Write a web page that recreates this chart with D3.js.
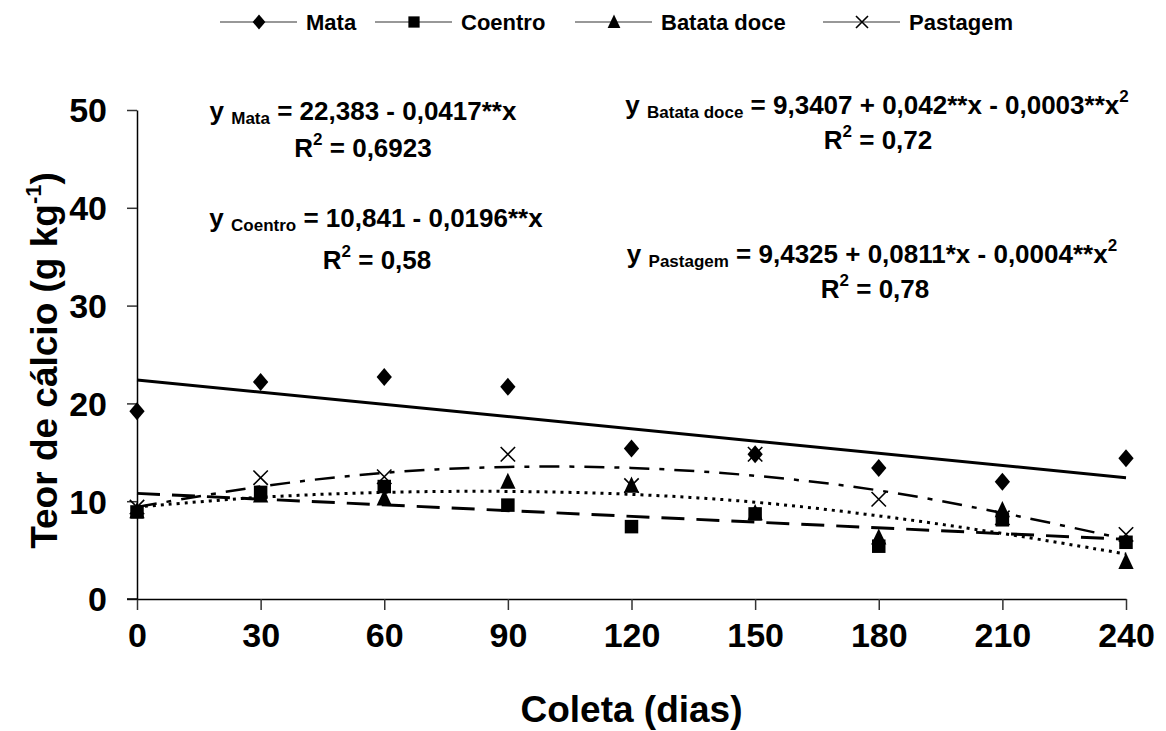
<!DOCTYPE html>
<html>
<head>
<meta charset="utf-8">
<script src="https://cdn.jsdelivr.net/npm/d3@7/dist/d3.min.js"></script>
<style>
  html, body { margin: 0; padding: 0; background: #fff; }
  svg { display: block; }
  text { font-family: "Liberation Sans", Arial, sans-serif; font-weight: bold; fill: #000; }
</style>
</head>
<body>
<svg id="chart" width="1166" height="731"></svg>
<script>
// ---- data ----
const days = [0, 30, 60, 90, 120, 150, 180, 210, 240];
const seriesNames = ["Mata", "Coentro", "Batata doce", "Pastagem"];
const mata = [19.2, 22.2, 22.7, 21.7, 15.4, 14.8, 13.4, 12.0, 14.4];
const coentro = [8.9, 10.9, 11.5, 9.6, 7.4, 8.7, 5.4, 8.1, 5.8];
const batataDoce = [9.0, 10.6, 10.3, 12.0, 11.6, 8.8, 6.3, 9.1, 3.8];
const pastagem = [9.4, 12.4, 12.5, 14.8, 11.6, 14.8, 10.2, 8.3, 6.6];
// trend lines
const trendEnds = [0, 240];
const mataTrend = [22.4, 12.4];
const coentroTrend = [10.8, 6.1];
const batataTrend = [9.4, 10.4, 10.9, 11.0, 10.7, 9.9, 8.5, 6.7, 4.6];
const pastagemTrend = [9.4, 11.5, 12.9, 13.5, 13.4, 12.6, 11.1, 8.8, 6.1];
const yTicks = [0, 10, 20, 30, 40, 50];
const xTicks = days;

// ---- layout ----
const svg = d3.select("#chart");
const x = d3.scaleLinear().domain([0, 240]).range([137, 1126]);
const y = d3.scaleLinear().domain([0, 50]).range([599, 110]);

// axes
const xAxis = svg.append("g").attr("transform", `translate(0,${y(0)})`)
  .call(d3.axisBottom(x).tickValues(xTicks).tickSize(11).tickSizeOuter(0).tickPadding(30));
const yAxis = svg.append("g").attr("transform", `translate(${x(0)},0)`)
  .call(d3.axisLeft(y).tickValues(yTicks).tickSize(10).tickSizeOuter(0).tickPadding(20));
[xAxis, yAxis].forEach(g => {
  g.select(".domain").attr("stroke", "#000").attr("stroke-width", 1.5);
  g.selectAll(".tick line").attr("stroke", "#333").attr("stroke-width", 1.5);
  g.selectAll(".tick text").style("font-size", "34px").style("font-family", "'Liberation Sans', Arial, sans-serif").style("font-weight", "bold").attr("fill", "#000");
});
xAxis.selectAll(".tick text").attr("dy", "0.2em");
yAxis.selectAll(".tick text").attr("dy", "0.35em");
// extend x-axis line left to y tick length
svg.append("line").attr("x1", x(0) - 10).attr("x2", x(0)).attr("y1", y(0)).attr("y2", y(0)).attr("stroke", "#000").attr("stroke-width", 1.5);

// axis titles
svg.append("text").attr("x", (x(0) + x(240)) / 2).attr("y", 722).attr("text-anchor", "middle")
  .style("font-size", "37px").text("Coleta (dias)");
const yt = svg.append("text").attr("transform", `translate(57,${(y(0) + y(50)) / 2 + 6}) rotate(-90)`)
  .attr("text-anchor", "middle").style("font-size", "37px");
yt.append("tspan").text("Teor de cálcio (g kg");
yt.append("tspan").text("-1").style("font-size", "22px").attr("dy", -16);
yt.append("tspan").text(")").attr("dy", 16);

// trend lines
const straight = d3.line().x(d => x(d[0])).y(d => y(d[1]));
const smooth = d3.line().x(d => x(d[0])).y(d => y(d[1])).curve(d3.curveCatmullRom);
svg.append("path").attr("d", straight(d3.zip(trendEnds, mataTrend)))
  .attr("fill", "none").attr("stroke", "#000").attr("stroke-width", 3);
svg.append("path").attr("d", straight(d3.zip(trendEnds, coentroTrend)))
  .attr("fill", "none").attr("stroke", "#000").attr("stroke-width", 3).attr("stroke-dasharray", "23,12");
svg.append("path").attr("d", smooth(d3.zip(days, batataTrend)))
  .attr("fill", "none").attr("stroke", "#000").attr("stroke-width", 3).attr("stroke-dasharray", "3,5");
svg.append("path").attr("d", smooth(d3.zip(days, pastagemTrend)))
  .attr("fill", "none").attr("stroke", "#000").attr("stroke-width", 2.5).attr("stroke-dasharray", "20,10,5,10");

// markers
function drawMarker(g, type, cx, cy, s) {
  if (type === 0) {
    g.append("path").attr("d", `M${cx},${cy - s}L${cx + s * 0.85},${cy}L${cx},${cy + s}L${cx - s * 0.85},${cy}Z`).attr("fill", "#000");
  } else if (type === 1) {
    g.append("rect").attr("x", cx - s * 0.75).attr("y", cy - s * 0.75).attr("width", s * 1.5).attr("height", s * 1.5).attr("fill", "#000");
  } else if (type === 2) {
    g.append("path").attr("d", `M${cx},${cy - s}L${cx + s * 0.85},${cy + s * 0.8}L${cx - s * 0.85},${cy + s * 0.8}Z`).attr("fill", "#000");
  } else {
    g.append("path").attr("d", `M${cx - s * 0.8},${cy - s * 0.8}L${cx + s * 0.8},${cy + s * 0.8}M${cx + s * 0.8},${cy - s * 0.8}L${cx - s * 0.8},${cy + s * 0.8}`)
      .attr("stroke", "#000").attr("stroke-width", 1.6).attr("fill", "none");
  }
}
const allSeries = [mata, coentro, batataDoce, pastagem];
const mg = svg.append("g");
allSeries.forEach((vals, si) => {
  vals.forEach((v, i) => drawMarker(mg, si, x(days[i]), y(v), 9));
});

// legend
const legendX = [220, 375, 575, 823];
const lg = svg.append("g");
seriesNames.forEach((name, i) => {
  const lx = legendX[i], ly = 22;
  lg.append("line").attr("x1", lx).attr("x2", lx + 77).attr("y1", ly).attr("y2", ly).attr("stroke", "#333").attr("stroke-width", 1.2);
  drawMarker(lg, i, lx + 39, ly, 7.5);
  lg.append("text").attr("x", lx + 86).attr("y", ly + 8).style("font-size", "22px").text(name);
});

// equations
function eq(cx, by, parts) {
  const t = svg.append("text").attr("x", cx).attr("y", by).attr("text-anchor", "middle").style("font-size", "26px");
  parts.forEach(p => {
    const s = t.append("tspan").text(p.t);
    if (p.sub) s.style("font-size", "17px").attr("dy", 4);
    if (p.sup) s.style("font-size", "17px").attr("dy", -12);
    if (p.back) s.attr("dy", p.back);
  });
}
eq(363, 120, [{t: "y "}, {t: "Mata", sub: true}, {t: " = 22,383 - 0,0417**x", back: -4}]);
eq(363, 157, [{t: "R"}, {t: "2", sup: true}, {t: " = 0,6923", back: 12}]);
eq(376, 227, [{t: "y "}, {t: "Coentro", sub: true}, {t: " = 10,841 - 0,0196**x", back: -4}]);
eq(377, 269, [{t: "R"}, {t: "2", sup: true}, {t: " = 0,58", back: 12}]);
eq(877, 114, [{t: "y "}, {t: "Batata doce", sub: true}, {t: " = 9,3407 + 0,042**x - 0,0003**x", back: -4}, {t: "2", sup: true}]);
eq(878, 149, [{t: "R"}, {t: "2", sup: true}, {t: " = 0,72", back: 12}]);
eq(872, 263, [{t: "y "}, {t: "Pastagem", sub: true}, {t: " = 9,4325 + 0,0811*x - 0,0004**x", back: -4}, {t: "2", sup: true}]);
eq(875, 298, [{t: "R"}, {t: "2", sup: true}, {t: " = 0,78", back: 12}]);
</script>
</body>
</html>
